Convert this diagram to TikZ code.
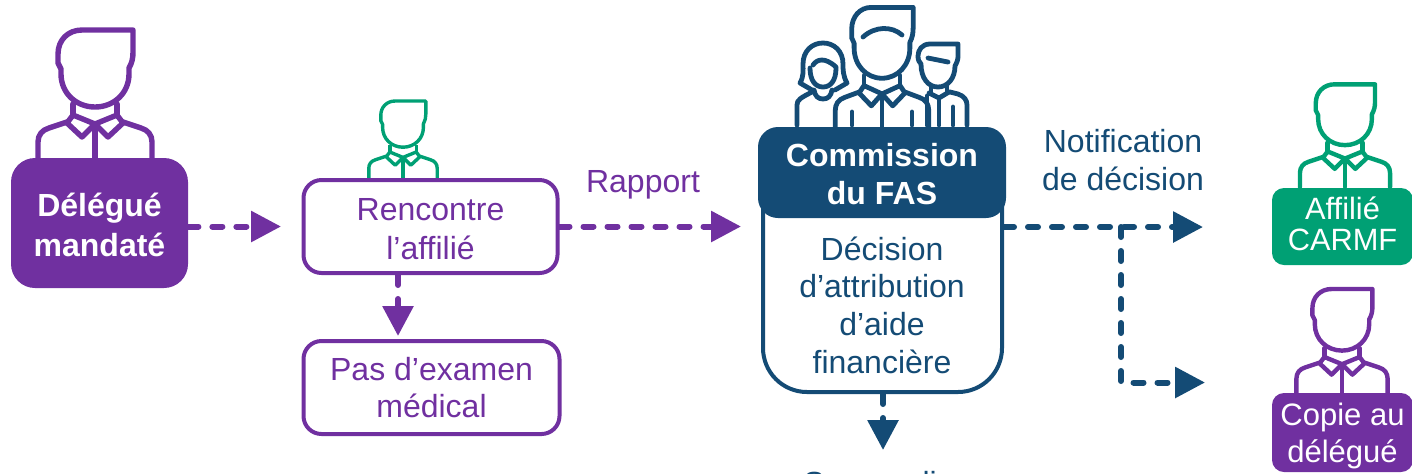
\documentclass[tikz,border=0pt]{standalone}
\usepackage{fontspec}
\setmainfont{Liberation Sans}
\usetikzlibrary{arrows.meta}
\definecolor{mauve}{HTML}{7030A0}
\definecolor{marine}{HTML}{144B75}
\definecolor{vert}{HTML}{00A074}
\tikzset{
    person/.pic={
        \draw (38,-130) -- (-13,-130) .. controls (-27,-130) and (-37,-120) .. (-37,-106) -- (-37,-97) -- (-34,-91) -- (-34,-86) .. controls (-34,-67) and (-19,-53) .. (0,-53) .. controls (19,-53) and (34,-67) .. (34,-86) -- (34,-92) .. controls (37,-97) and (38,-102) .. (38,-108) -- cycle;
        \draw (-22,-56) -- (-22,-44) (22,-56) -- (22,-44);
        \draw (0,-36) -- (22,-45) -- (28,-37) -- (13,-23) -- cycle (0,-36) -- (-22,-45) -- (-28,-37) -- (-13,-23) -- cycle;
        \draw (0,-36) -- (0,0);
        \draw (28,-38) -- (46,-32) .. controls (53,-30) and (57,-25) .. (57,-18) -- (57,0);
        \draw (-28,-38) -- (-46,-32) .. controls (-53,-30) and (-57,-25) .. (-57,-18) -- (-57,0);
    },
    txt/.style={align=center,font=\fontsize{16}{18.8}\selectfont},
    plein/.style={txt,rounded corners=#1,text=white,inner sep=0pt},
    cadre/.style={txt,draw=mauve,text=mauve,line width=2pt,rounded corners=9pt,inner sep=0pt,minimum width=127pt,minimum height=46.5pt},
    flow/.style={line width=3pt,line cap=round,dash pattern=on 5pt off 7pt,-{Triangle[length=15pt,width=15pt,line cap=butt]}},
    icon/.style={line width=2.4pt,line cap=round,line join=round,draw=marine}
}

\begin{document}
\begin{tikzpicture}[x=0.5pt,y=-0.5pt,line cap=round,line join=round]
    \clip (0,0) rectangle (1412,473);

    \pic[color=mauve,line width=2.7pt] at (95,160) {person};
    \pic[color=vert,line width=1.7pt,scale=0.6,line cap=butt] at (403,179) {person};
    \pic[color=vert,line width=2.2pt,scale=0.79] at (1345,187) {person};
    \pic[color=mauve,line width=2.2pt,scale=0.8] at (1342,393) {person};
    \pic[color=marine,line width=2.4pt,xscale=0.82,yscale=0.92] at (882,127) {person};

    % les visages du groupe
    \draw[icon] (863,37) .. controls (875,26) and (892,26) .. (902,35);
    \draw[icon] (852,112) -- (852,125) (912,112) -- (912,125);

    \draw[icon] (812,90) -- (800,83) .. controls (804,76) and (803,70) .. (803,64) .. controls (803,51) and (812,43) .. (823,43) .. controls (834,43) and (843,51) .. (843,64) .. controls (843,70) and (843,76) .. (847,83) -- (835,90);
    \draw[icon] (810,68) .. controls (810,80) and (815,87) .. (823,87) .. controls (831,87) and (836,80) .. (836,68);
    \draw[icon] (813,65) .. controls (817,59) and (825,57) .. (836,67);
    \draw[icon] (814,90) .. controls (815,96) and (818,99) .. (823,99) .. controls (828,99) and (831,96) .. (832,90);
    \draw[icon] (797,125) -- (797,105) .. controls (797,100) and (800,98) .. (814,91);

    \draw[icon] (958,44) -- (930,44) .. controls (922,44) and (918,50) .. (918,56) .. controls (918,60) and (919,62) .. (921,64) .. controls (921,78) and (928,87) .. (938,87) .. controls (948,87) and (955,78) .. (955,66) .. controls (957,62) and (958,60) .. (958,56) -- cycle;
    \draw[icon] (928,58) -- (948,62);
    \draw[icon] (931,87) -- (931,93) (947,87) -- (947,92);
    \draw[icon] (929,93) -- (939,98) -- (949,92);
    \draw[icon] (939,98) -- (939,125) (927,96) -- (927,125) (953,107) -- (953,125);
    \draw[icon] (950,92) -- (958,94) .. controls (964,96) and (967,100) .. (967,105) -- (967,125);

    \node at (99.5,223) [plein=12pt,fill=mauve,minimum width=88.5pt,minimum height=65pt,text height=34pt,font=\fontsize{16}{20}\selectfont\bfseries] (delegue) {Délégué\\mandaté};
    \node at (430.5,226.5) [cadre,text height=33.5pt,font=\fontsize{16}{19.5}\selectfont] (rencontre) {Rencontre\\l’affilié};
    \node at (431.5,387.5) [cadre,minimum width=128pt] (examen) {Pas d’examen\\médical};

    \node at (882.5,261) [draw=marine,line width=2pt,rounded corners=22pt,minimum width=119.5pt,minimum height=131pt,inner sep=0pt] (corps) {};
    \node at (882,305) [txt,text=marine] (decision) {Décision\\d’attribution\\d’aide\\financière};
    \node at (882,172.5) [plein=10pt,fill=marine,minimum width=124pt,minimum height=45.5pt,text height=32pt,font=\fontsize{16}{19}\selectfont\bfseries] (commission) {Commission\\du FAS};

    \node at (1342.5,226.5) [plein=6pt,fill=vert,minimum width=70.5pt,minimum height=38.5pt,text height=24.5pt,font=\fontsize{15.4}{15.5}\selectfont] (affilie) {Affilié\\CARMF};
    \node at (1342.5,432.5) [plein=6pt,fill=mauve,minimum width=70.5pt,minimum height=39.5pt,text height=33pt,font=\fontsize{15.5}{18.5}\selectfont] (copie) {Copie au\\délégué};

    \node at (643,185) [txt,text=mauve,inner sep=0pt] (rapport) {Rapport};
    \node at (1123,160) [txt,text=marine,inner sep=0pt] (notification) {Notification\\de décision};
    \node at (803,494) [txt,text=marine,inner sep=0pt,anchor=base west] (suite) {Somme li};

    \coordinate (tipdelegue) at (281,226.5);
    \coordinate (tiprapport) at (741,226.5);
    \coordinate (tipexamen) at (398,336);
    \coordinate (tipaffilie) at (1203,227);
    \coordinate (tipcopie) at (1205,382.5);
    \coordinate (coude) at (1121,227);
    \coordinate (tipsuite) at (883,450);

    \draw[flow,mauve] (delegue.east |- tipdelegue) -- (tipdelegue);
    \draw[flow,mauve] (rencontre.east) -- (tiprapport);
    \draw[flow,mauve] (rencontre.south -| tipexamen) -- (tipexamen);
    \draw[flow,marine] (corps.east |- tipaffilie) -- (tipaffilie);
    \draw[flow,marine] (coude) |- (tipcopie);
    \draw[flow,marine] (corps.south -| tipsuite) -- (tipsuite);
\end{tikzpicture}
\end{document}
